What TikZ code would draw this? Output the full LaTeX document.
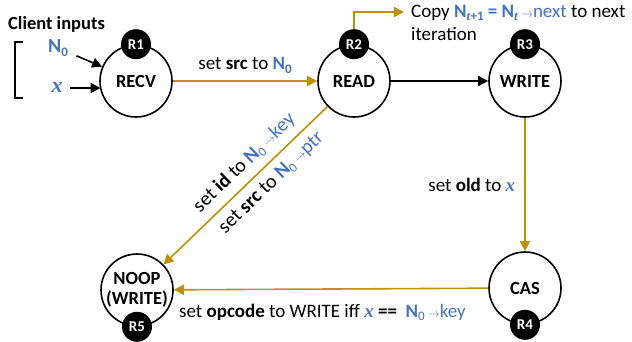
\documentclass[tikz,border=0pt]{standalone}
\usepackage{fontspec}
\setmainfont{Carlito}
\newfontfamily\xfont{Liberation Serif}
\usetikzlibrary{arrows.meta,calc}
\definecolor{gold}{HTML}{BF9000}
\definecolor{nblue}{HTML}{4472C4}
\newcommand{\Nsub}[1]{\textcolor{nblue}{\textbf{N}\raisebox{-0.35ex}{\fontsize{13}{13}\selectfont #1}}}
\newcommand{\xvar}{\textcolor{nblue}{{\xfont\bfseries\itshape x}}}
\newcommand{\tinyarr}{\textcolor{nblue}{\,{\fontsize{13}{13}\selectfont$\rightarrow$}}}
\begin{document}
\begin{tikzpicture}[x=1pt,y=-1pt,
  font=\fontsize{19}{22}\selectfont,
  state/.style={circle,draw,line width=1.6pt,minimum size=72pt,inner sep=0pt,fill=white,
    font=\fontsize{18.5}{19.5}\selectfont\bfseries,align=center},
  badge/.style={circle,fill=black,minimum size=30pt,inner sep=0pt,text=white,
    font=\fontsize{15}{15}\selectfont\bfseries},
  flow/.style={draw=gold,line width=1.6pt,-{Triangle[length=10pt,width=10pt]}},
  ctrl/.style={draw=black,line width=1.6pt,-{Triangle[length=10pt,width=10pt]}},
  lbl/.style={inner sep=1pt}]
\useasboundingbox (0,0) rectangle (632,341);

% states
\node[state] (RECV) at (136,81) {RECV};
\node[state] (READ) at (354,81) {READ};
\node[state] (WRITE) at (525,81) {WRITE};
\node[state] (CAS) at (525,288) {CAS};
\node[state] (NOOP) at (137,290) {NOOP\\(WRITE)};

% client inputs
\node[lbl,anchor=west,font=\fontsize{18.5}{19}\selectfont\bfseries] (client) at (7,24) {Client inputs};
\node[lbl] (nzero) at (58,48) {\fontsize{20}{20}\selectfont\Nsub{\textbf{0}}};
\node[lbl] (xin) at (57,87) {\fontsize{22}{22}\selectfont\xvar};
\draw[line width=1.2pt] (23,42) -- (15,42) -- (15,98) -- (23,98);
\draw[ctrl,shorten <=20pt] (nzero.center) -- (RECV);
\coordinate (xtip) at (100.5,88);
\draw[ctrl] (70,88) -- (xtip);

% edges
\draw[flow] (RECV) -- (READ) node[midway,above=6pt,lbl] (l1) {set \textbf{src} to \Nsub{\textbf{0}}};
\draw[ctrl] (READ) -- (WRITE);
\draw[flow] (WRITE) -- (CAS) node[pos=0.5,left=8pt,lbl] (l2) {set \textbf{old} to \xvar};
\draw[flow] (CAS) -- (NOOP);
\node[lbl,anchor=west] (l3) at (178,312) {set \textbf{opcode} to WRITE iff \xvar\ \textbf{==}\ \ \Nsub{0}\tinyarr\textcolor{nblue}{key}};
\draw[flow] (READ) -- (NOOP);
\path (NOOP) -- (READ)
  node[pos=0.565,sloped,above=7pt,lbl,font=\fontsize{20}{22}\selectfont] (l4) {set \textbf{id} to \Nsub{0}\tinyarr\textcolor{nblue}{key}}
  node[pos=0.59,sloped,below=7pt,lbl,font=\fontsize{20}{22}\selectfont] (l5) {set \textbf{src} to \Nsub{0}\tinyarr\textcolor{nblue}{ptr}};

% badges
\node[badge] (R1) at (RECV.north) {R1};
\node[badge] (R2) at (READ.north) {R2};
\node[badge] (R3) at (WRITE.north) {R3};
\node[badge] (R4) at (CAS.south) {R4};
\node[badge] (R5) at (NOOP.south) {R5};

% copy arrow
\coordinate (copytip) at (404,12);
\draw[flow] (R2.north) |- (copytip);
\node[lbl,anchor=west] (c1) at (410,13) {Copy \textcolor{nblue}{\textbf{N}\raisebox{-0.35ex}{\fontsize{13}{13}\selectfont{\xfont\bfseries\itshape t}\textbf{+1}}\textbf{ = N}\raisebox{-0.35ex}{\fontsize{13}{13}\selectfont{\xfont\bfseries\itshape t}}}\tinyarr\textcolor{nblue}{next} to next};
\node[lbl,anchor=west] (c2) at (410,34) {iteration};
\end{tikzpicture}
\end{document}
